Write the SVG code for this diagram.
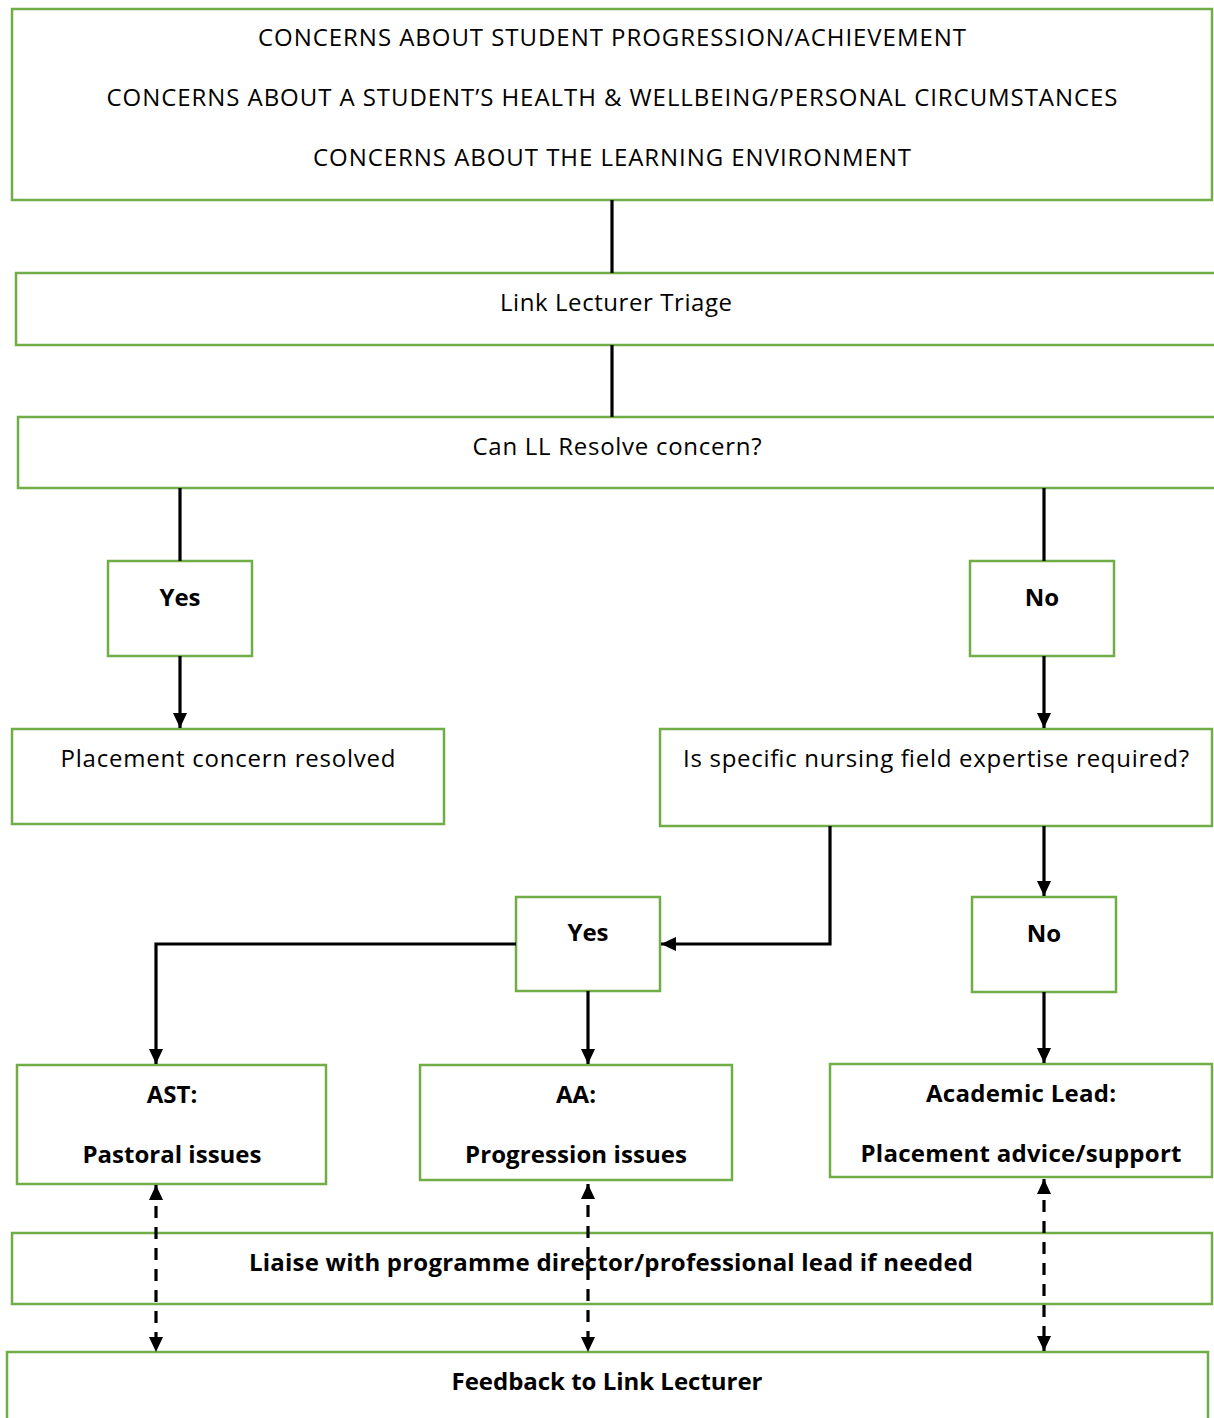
<svg xmlns="http://www.w3.org/2000/svg" width="1214" height="1418" viewBox="0 0 1214 1418">
<style>
.box{fill:#fff;stroke:#70AD47;stroke-width:2.5}
.t{font-family:"Open Sans","Liberation Sans",sans-serif;font-size:24px;fill:#000;text-anchor:middle}
.b{font-weight:bold}
.ln{fill:none;stroke:#000;stroke-width:3.2}
.dash{fill:none;stroke:#000;stroke-width:3.2;stroke-dasharray:12 9}
</style>
<defs>
<marker id="ah" markerUnits="userSpaceOnUse" markerWidth="16" markerHeight="16" viewBox="0 0 16 16" refX="15" refY="8" orient="auto-start-reverse">
<path d="M0,1 L15,8 L0,15 Z" fill="#000"/>
</marker>
</defs>
<rect width="1214" height="1418" fill="#fff"/>
<g id="concerns">
<rect class="box" x="12" y="9" width="1200" height="191"/>
<text class="t" x="612" y="46" textLength="708">CONCERNS ABOUT STUDENT PROGRESSION/ACHIEVEMENT</text>
<text class="t" x="612" y="106" textLength="1011">CONCERNS ABOUT A STUDENT’S HEALTH &amp; WELLBEING/PERSONAL CIRCUMSTANCES</text>
<text class="t" x="612" y="166" textLength="598">CONCERNS ABOUT THE LEARNING ENVIRONMENT</text>
</g>
<g id="triage">
<rect class="box" x="16" y="273" width="1210" height="72"/>
<text class="t" x="616" y="311" textLength="232">Link Lecturer Triage</text>
</g>
<g id="resolve">
<rect class="box" x="18" y="417" width="1210" height="71"/>
<text class="t" x="617" y="455" textLength="289">Can LL Resolve concern?</text>
</g>
<g id="yes1">
<rect class="box" x="108" y="561" width="144" height="95"/>
<text class="t b" x="180" y="606">Yes</text>
</g>
<g id="no1">
<rect class="box" x="970" y="561" width="144" height="95"/>
<text class="t b" x="1042" y="606">No</text>
</g>
<g id="resolved">
<rect class="box" x="12" y="729" width="432" height="95"/>
<text class="t" x="228" y="767" textLength="335">Placement concern resolved</text>
</g>
<g id="expertise">
<rect class="box" x="660" y="729" width="552" height="97"/>
<text class="t" x="936" y="767" textLength="506">Is specific nursing field expertise required?</text>
</g>
<g id="yes2">
<rect class="box" x="516" y="897" width="144" height="94"/>
<text class="t b" x="588" y="941">Yes</text>
</g>
<g id="no2">
<rect class="box" x="972" y="897" width="144" height="95"/>
<text class="t b" x="1044" y="942">No</text>
</g>
<g id="ast">
<rect class="box" x="17" y="1065" width="309" height="119"/>
<text class="t b" x="172" y="1103">AST:</text>
<text class="t b" x="172" y="1163" textLength="179">Pastoral issues</text>
</g>
<g id="aa">
<rect class="box" x="420" y="1065" width="312" height="115"/>
<text class="t b" x="576" y="1103">AA:</text>
<text class="t b" x="576" y="1163" textLength="222">Progression issues</text>
</g>
<g id="academic">
<rect class="box" x="830" y="1064" width="382" height="113"/>
<text class="t b" x="1021" y="1102" textLength="190">Academic Lead:</text>
<text class="t b" x="1021" y="1162" textLength="321">Placement advice/support</text>
</g>
<g id="liaise">
<rect class="box" x="12" y="1233" width="1200" height="71"/>
<text class="t b" x="611" y="1271" textLength="724">Liaise with programme director/professional lead if needed</text>
</g>
<g id="feedback">
<rect class="box" x="7" y="1352" width="1201" height="80"/>
<text class="t b" x="607" y="1390" textLength="311">Feedback to Link Lecturer</text>
</g>
<g id="connectors">
<line class="ln" x1="612" y1="200" x2="612" y2="273"/>
<line class="ln" x1="612" y1="345" x2="612" y2="417"/>
<line class="ln" x1="180" y1="488" x2="180" y2="561"/>
<line class="ln" x1="180" y1="656" x2="180" y2="728" marker-end="url(#ah)"/>
<line class="ln" x1="1044" y1="488" x2="1044" y2="561"/>
<line class="ln" x1="1044" y1="656" x2="1044" y2="728" marker-end="url(#ah)"/>
<polyline class="ln" points="830,826 830,944 661,944" marker-end="url(#ah)"/>
<line class="ln" x1="1044" y1="826" x2="1044" y2="896" marker-end="url(#ah)"/>
<polyline class="ln" points="516,944 156,944 156,1064" marker-end="url(#ah)"/>
<line class="ln" x1="588" y1="991" x2="588" y2="1064" marker-end="url(#ah)"/>
<line class="ln" x1="1044" y1="992" x2="1044" y2="1063" marker-end="url(#ah)"/>
<line class="dash" x1="156" y1="1185" x2="156" y2="1352" marker-start="url(#ah)" marker-end="url(#ah)"/>
<line class="dash" x1="588" y1="1184" x2="588" y2="1352" marker-start="url(#ah)" marker-end="url(#ah)"/>
<line class="dash" x1="1044" y1="1179" x2="1044" y2="1351" marker-start="url(#ah)" marker-end="url(#ah)"/>
</g>
</svg>
